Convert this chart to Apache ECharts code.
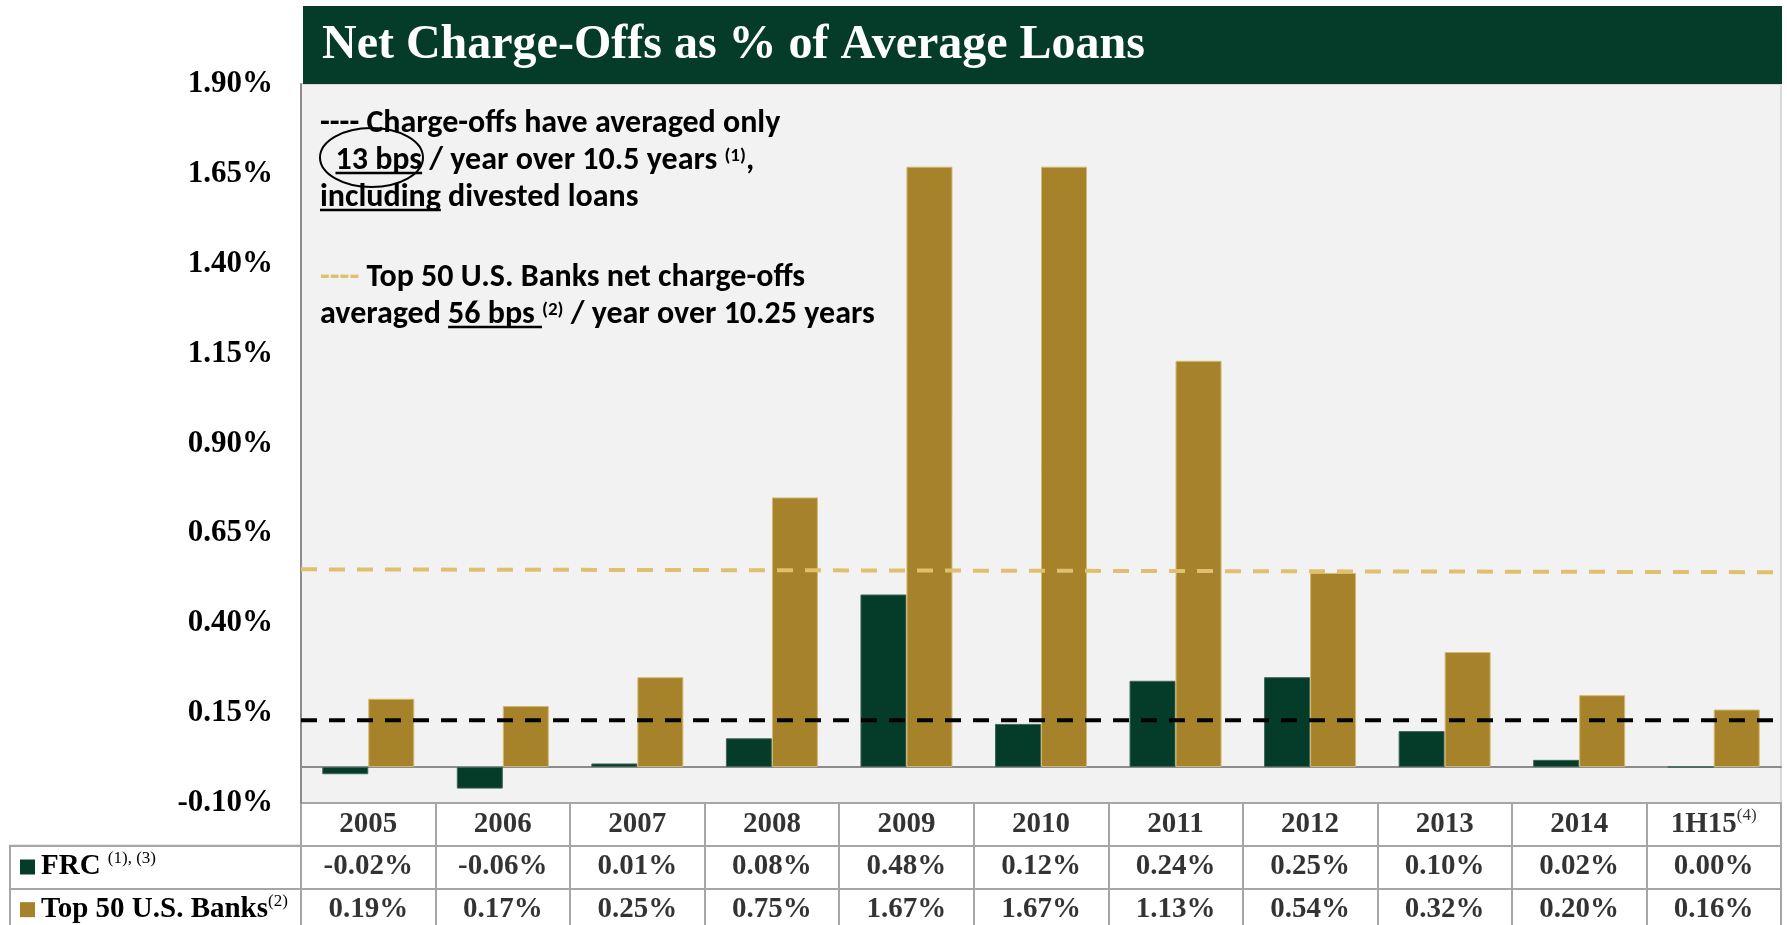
<!DOCTYPE html>
<html>
<head>
<meta charset="utf-8">
<script src="https://cdn.jsdelivr.net/npm/echarts@6/dist/echarts.min.js"></script>
<style>html,body{margin:0;padding:0;background:#fff}#c{width:1787px;height:925px}</style>
</head>
<body>
<div id="c"></div>
<script>
// ---------- DATA ----------
const categories = ['2005','2006','2007','2008','2009','2010','2011','2012','2013','2014','1H15'];
const frcValues = [-0.02,-0.06,0.01,0.08,0.48,0.12,0.24,0.25,0.10,0.02,0.00];
const top50Values = [0.19,0.17,0.25,0.75,1.67,1.67,1.13,0.54,0.32,0.20,0.16];
const frcAverage = 0.13;              // "13 bps" black dashed line
const top50AverageLine = [0.55,0.542]; // gold dashed line as drawn (start, end)
const yMin = -0.10, yMax = 1.90, yStep = 0.25;
const tableRows = ['header','FRC','Top50'];
const categorySup = {'1H15':'(4)'};

// ---------- STYLE ----------
const GREEN = '#053b29', GOLD = '#a6832a', GOLDLINE = '#dfc06f', GRID = '#a6a6a6';
const serif = "'Liberation Serif','Times New Roman',serif";
const annFamily = "Carlito, 'Open Sans', 'Liberation Sans', sans-serif";
const MAIN = 32, SUP = 19;

const chart = echarts.init(document.getElementById('c'), null, {renderer:'canvas', width:1787, height:925});

// annotation text (rich lines with underline / superscript)
const ctx = document.createElement('canvas').getContext('2d');
function tw(t, size){ ctx.font = 'bold ' + size + 'px ' + annFamily; return ctx.measureText(t).width; }
const annLines = [
  {x:320, base:131, segs:[{t:'----'},{t:' Charge-offs have averaged only'}]},
  {x:321, base:168, segs:[{t:'  '},{t:'13 bps',u:true},{t:' / year over 10.5 years '},{t:'(1)',sup:true},{t:','}]},
  {x:320, base:205, segs:[{t:'including',u:true},{t:' divested loans'}]},
  {x:320, base:285, segs:[{t:'----',color:GOLDLINE},{t:' Top 50 U.S. Banks net charge-offs'}]},
  {x:320, base:322, segs:[{t:'averaged '},{t:'56 bps ',u:true},{t:'(2)',sup:true},{t:' / year over 10.25 years'}]}
];
function buildAnn(){
  const els = [];
  annLines.forEach(l => {
    let x = l.x;
    l.segs.forEach(s => {
      const size = s.sup ? SUP : MAIN;
      const w = tw(s.t, size);
      els.push({type:'text', x:x, y: s.sup ? l.base - 12 : l.base - 0.387*MAIN + 5, z:100,
        style:{text:s.t, fill:s.color || '#000', fontSize:size, fontWeight:'bold', fontFamily:annFamily, verticalAlign:'middle', align:'left'}});
      if (s.u) els.push({type:'line', z:100, shape:{x1:x, y1:l.base+5, x2:x+w, y2:l.base+5}, style:{stroke:'#000', lineWidth:2.5}});
      x += w;
    });
  });
  return els;
}

const cellLabel = {
  show:true, position:'inside', fontFamily:serif, fontWeight:'bold', fontSize:29, color:'#000',
  rich:{
    m:{fontFamily:serif, fontWeight:'bold', fontSize:29, color:'#000', lineHeight:34},
    s:{fontFamily:serif, fontWeight:'normal', fontSize:17, color:'#000', verticalAlign:'top', lineHeight:26}
  },
  formatter: p => {
    const v = p.value[2];
    if (p.value[1] === 'header') return categorySup[v] ? '{m|' + v + '}{s|' + categorySup[v] + '}' : v;
    return v.toFixed(2) + '%';
  }
};

const option = {
  animation:false,
  backgroundColor:'#fff',
  grid:[
    {left:301, top:84, width:1480, height:719, show:true, backgroundColor:'#f2f2f2', borderColor:'#d9d9d9', borderWidth:2, outerBoundsMode:'none'},
    {left:301, top:803, width:1480, height:128, show:true, backgroundColor:'#fff', borderColor:GRID, borderWidth:2, outerBoundsMode:'none'},
    {left:10, top:803+128/3, width:291, height:256/3, show:true, backgroundColor:'#fff', borderColor:GRID, borderWidth:2, outerBoundsMode:'none'}
  ],
  xAxis:[
    {type:'category', gridIndex:0, data:categories, axisLine:{onZero:true, lineStyle:{color:'#8c8c8c', width:2}}, axisTick:{show:false}, axisLabel:{show:false}, splitLine:{show:false}},
    {type:'value', gridIndex:0, min:0, max:1, show:false},
    {type:'category', gridIndex:1, data:categories, axisLine:{show:false}, axisTick:{show:false}, axisLabel:{show:false},
      splitLine:{show:true, interval:0, lineStyle:{color:GRID, width:2}}},
    {type:'value', gridIndex:2, show:false}
  ],
  yAxis:[
    {type:'value', gridIndex:0, min:yMin, max:yMax, interval:yStep,
      axisLine:{show:true, onZero:false, lineStyle:{color:'#8c8c8c', width:2}}, axisTick:{show:false}, splitLine:{show:false},
      axisLabel:{margin:28, formatter:v => v.toFixed(2) + '%', fontFamily:serif, fontWeight:'bold', fontSize:31, color:'#000', showMinLabel:true, showMaxLabel:true}},
    {type:'category', gridIndex:1, data:tableRows, inverse:true, axisLine:{show:false}, axisTick:{show:false},
      splitLine:{show:true, interval:0, lineStyle:{color:GRID, width:2}},
      axisLabel:{margin:281, align:'left', interval:0,
        formatter: v => v === 'FRC' ? '{g|}{t|FRC }{s|(1), (3)}' : (v === 'Top50' ? '{o|}{t|Top 50 U.S. Banks}{s|(2)}' : ''),
        rich:{
          g:{width:15, height:15, backgroundColor:GREEN},
          o:{width:15, height:15, backgroundColor:GOLD},
          t:{fontFamily:serif, fontWeight:'bold', fontSize:29, color:'#000', padding:[0,0,0,6], lineHeight:34},
          s:{fontFamily:serif, fontWeight:'normal', fontSize:17, color:'#000', verticalAlign:'top', lineHeight:26}
        }}},
    {type:'category', gridIndex:2, data:['FRC','Top50'], inverse:true, axisLine:{show:false}, axisTick:{show:false}, axisLabel:{show:false},
      splitLine:{show:true, interval:0, lineStyle:{color:GRID, width:2}}}
  ],
  series:[
    {type:'bar', name:'FRC', xAxisIndex:0, yAxisIndex:0, data:frcValues, barWidth:46, barGap:'0%',
      itemStyle:{color:GREEN, borderColor:'#3d6655', borderWidth:1}},
    {type:'bar', name:'Top 50 U.S. Banks', xAxisIndex:0, yAxisIndex:0, data:top50Values, barWidth:46, barGap:'0%',
      itemStyle:{color:GOLD, borderColor:'#d3b971', borderWidth:1}},
    {type:'line', xAxisIndex:1, yAxisIndex:0, data:[[0,top50AverageLine[0]],[0.995,top50AverageLine[1]]], symbol:'none', silent:true, z:5,
      lineStyle:{color:GOLDLINE, width:4, type:[16,12]}},
    {type:'line', xAxisIndex:1, yAxisIndex:0, data:[[0,frcAverage],[0.995,frcAverage]], symbol:'none', silent:true, z:6,
      lineStyle:{color:'#000', width:4, type:[16,12]}},
    {type:'scatter', xAxisIndex:2, yAxisIndex:1, symbolSize:1, itemStyle:{color:'rgba(0,0,0,0)'}, silent:true, label:cellLabel,
      data:[].concat(
        categories.map(c => [c,'header',c]),
        categories.map((c,i) => [c,'FRC',frcValues[i]]),
        categories.map((c,i) => [c,'Top50',top50Values[i]])
      )}
  ],
  graphic:{elements:[
    {type:'rect', z:50, shape:{x:303, y:6, width:1479, height:78}, style:{fill:GREEN}},
    {type:'text', z:51, x:322, y:46, style:{text:'Net Charge-Offs as % of Average Loans', fill:'#fff', fontFamily:serif, fontWeight:'bold', fontSize:48, verticalAlign:'middle', align:'left'}},
    {type:'ellipse', z:100, shape:{cx:371.5, cy:157.5, rx:51.5, ry:29.5}, style:{fill:'none', stroke:'#000', lineWidth:2}}
  ].concat(buildAnn())}
};
chart.setOption(option);
</script>
</body>
</html>
